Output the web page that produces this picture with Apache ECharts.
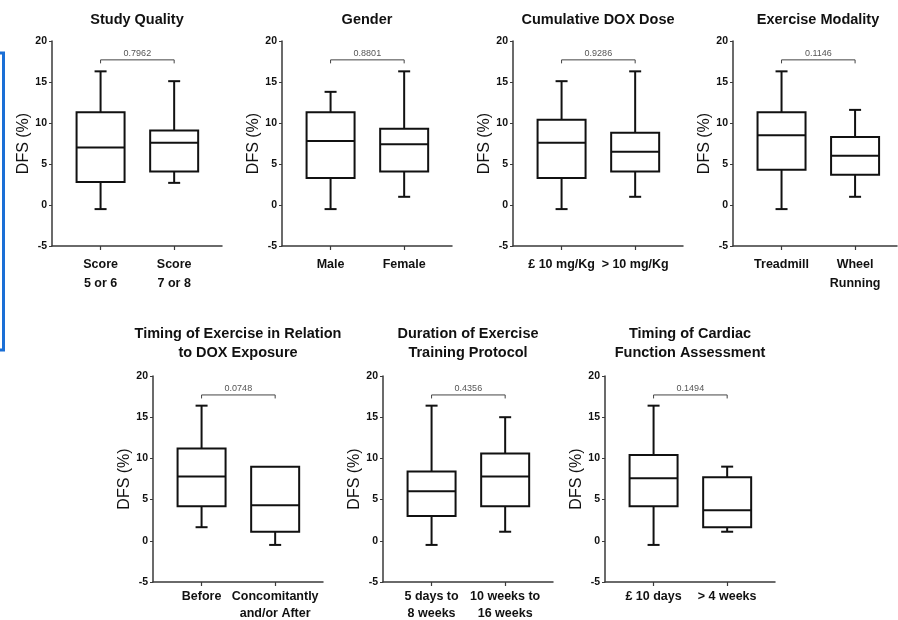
<!DOCTYPE html>
<html>
<head>
<meta charset="utf-8">
<script src="https://cdn.jsdelivr.net/npm/echarts@6/dist/echarts.min.js"></script>
<style>
  html, body { margin: 0; padding: 0; background: #ffffff; }
  #chart { width: 898px; height: 620px; }
</style>
</head>
<body>
<div id="chart"></div>
<script>
// Box statistics per group: [min, Q1, median, Q3, max] of DFS (%)
const studyQualityGroups = ['Score\n5 or 6', 'Score\n7 or 8'];
const studyQualityBoxes = [[-0.5, 2.8, 7.0, 11.3, 16.3], [2.7, 4.1, 7.6, 9.1, 15.1]];

const genderGroups = ['Male', 'Female'];
const genderBoxes = [[-0.5, 3.3, 7.8, 11.3, 13.8], [1.0, 4.1, 7.4, 9.3, 16.3]];

const doseGroups = ['£ 10 mg/Kg', '> 10 mg/Kg'];
const doseBoxes = [[-0.5, 3.3, 7.6, 10.4, 15.1], [1.0, 4.1, 6.5, 8.8, 16.3]];

const modalityGroups = ['Treadmill', 'Wheel\nRunning'];
const modalityBoxes = [[-0.5, 4.3, 8.5, 11.3, 16.3], [1.0, 3.7, 6.0, 8.3, 11.6]];

const timingGroups = ['Before', 'Concomitantly\nand/or After'];
const timingBoxes = [[1.65, 4.2, 7.8, 11.2, 16.4], [-0.5, 1.1, 4.3, 9.0, 9.0]];

const durationGroups = ['5 days to\n8 weeks', '10 weeks to\n16 weeks'];
const durationBoxes = [[-0.5, 3.0, 6.0, 8.4, 16.4], [1.1, 4.2, 7.8, 10.6, 15.0]];

const assessmentGroups = ['£ 10 days', '> 4 weeks'];
const assessmentBoxes = [[-0.5, 4.2, 7.6, 10.4, 16.4], [1.1, 1.65, 3.7, 7.7, 9.0]];

// Comparison p-values, one per panel
const pValues = [0.7962, 0.8801, 0.9286, 0.1146, 0.0748, 0.4356, 0.1494];

const panelTitles = [
  'Study Quality',
  'Gender',
  'Cumulative DOX Dose',
  'Exercise Modality',
  'Timing of Exercise in Relation\nto DOX Exposure',
  'Duration of Exercise\nTraining Protocol',
  'Timing of Cardiac\nFunction Assessment'
];

// y-axis scale
const yMin = -5, yMax = 20, yStep = 5;
const yAxisName = 'DFS (%)';

const panelGroups = [studyQualityGroups, genderGroups, doseGroups, modalityGroups,
  timingGroups, durationGroups, assessmentGroups];
const panelBoxes = [studyQualityBoxes, genderBoxes, doseBoxes, modalityBoxes,
  timingBoxes, durationBoxes, assessmentBoxes];

// Plot-area placement of each panel (pixels)
const layout = [
  { left: 52,  top: 41,  width: 170, height: 205, xMax: 1.65, labelGap: 9, labelLine: 19 },
  { left: 282, top: 41,  width: 170, height: 205, xMax: 1.65, labelGap: 9, labelLine: 19 },
  { left: 513, top: 41,  width: 170, height: 205, xMax: 1.65, labelGap: 9, labelLine: 19 },
  { left: 733, top: 41,  width: 164, height: 205, xMax: 1.57, labelGap: 9, labelLine: 19 },
  { left: 153, top: 376, width: 170, height: 206, xMax: 1.65, labelGap: 6, labelLine: 17 },
  { left: 383, top: 376, width: 170, height: 206, xMax: 1.65, labelGap: 6, labelLine: 17 },
  { left: 605, top: 376, width: 170, height: 206, xMax: 1.65, labelGap: 6, labelLine: 17 }
];
const titleTops = [10, 10, 10, 10, 324, 324, 324];

const SANS = "'Liberation Sans', Arial, sans-serif";
const INK = '#111111';
const AXIS = '#3a3a3a';
const BOX_HALF = 24;   // half box width, px
const CAP_HALF = 6;    // half whisker-cap width, px
const BRACKET_LEVEL = 17.7;

function renderBox(params, api) {
  const x = api.value(0);
  const lo = api.value(1), q1 = api.value(2), med = api.value(3), q3 = api.value(4), hi = api.value(5);
  const cx = api.coord([x, 0])[0];
  const py = v => api.coord([x, v])[1];
  const stroke = { stroke: INK, lineWidth: 2, fill: null };
  const line = (x1, y1, x2, y2) => ({ type: 'line', shape: { x1, y1, x2, y2 }, style: stroke });
  const yLo = py(lo), yQ1 = py(q1), yMed = py(med), yQ3 = py(q3), yHi = py(hi);
  const children = [];
  if (yHi < yQ3 - 0.5) {
    children.push(line(cx, yQ3, cx, yHi));
    children.push(line(cx - CAP_HALF, yHi, cx + CAP_HALF, yHi));
  }
  if (yLo > yQ1 + 0.5) {
    children.push(line(cx, yQ1, cx, yLo));
    children.push(line(cx - CAP_HALF, yLo, cx + CAP_HALF, yLo));
  }
  children.push({
    type: 'rect',
    shape: { x: cx - BOX_HALF, y: yQ3, width: BOX_HALF * 2, height: yQ1 - yQ3 },
    style: { stroke: INK, lineWidth: 2, fill: '#ffffff' }
  });
  children.push(line(cx - BOX_HALF, yMed, cx + BOX_HALF, yMed));
  return { type: 'group', children };
}

function renderBracket(params, api) {
  const a = api.coord([api.value(0), BRACKET_LEVEL]);
  const b = api.coord([api.value(1), BRACKET_LEVEL]);
  const y = a[1];
  return {
    type: 'group',
    children: [
      {
        type: 'polyline',
        shape: { points: [[a[0], y + 3.5], [a[0], y], [b[0], y], [b[0], y + 3.5]] },
        style: { stroke: '#444444', lineWidth: 1, fill: null }
      },
      {
        type: 'text',
        x: (a[0] + b[0]) / 2,
        y: y - 2,
        style: {
          text: api.value(2).toFixed(4),
          align: 'center',
          verticalAlign: 'bottom',
          font: "9px " + SANS,
          fill: '#555555'
        }
      }
    ]
  };
}

const grid = [], xAxis = [], yAxis = [], series = [], title = [];

layout.forEach((L, i) => {
  const groups = panelGroups[i];
  grid.push({
    left: L.left, top: L.top, width: L.width, height: L.height,
    containLabel: false, outerBoundsMode: 'none'
  });
  xAxis.push({
    gridIndex: i,
    type: 'value',
    min: -0.66,
    max: L.xMax,
    axisLine: { show: true, onZero: false, lineStyle: { color: AXIS, width: 1.5 } },
    axisTick: { show: true, customValues: [0, 1], length: 4, lineStyle: { color: AXIS, width: 1.2 } },
    axisLabel: {
      customValues: [0, 1],
      formatter: v => groups[Math.round(v)],
      hideOverlap: false,
      margin: L.labelGap,
      color: INK,
      fontFamily: SANS,
      fontWeight: 'bold',
      fontSize: 12.5,
      lineHeight: L.labelLine
    },
    splitLine: { show: false }
  });
  yAxis.push({
    gridIndex: i,
    type: 'value',
    min: yMin,
    max: yMax,
    interval: yStep,
    name: yAxisName,
    nameLocation: 'middle',
    nameRotate: 90,
    nameGap: 13,
    nameTextStyle: { fontFamily: SANS, fontSize: 16, color: INK },
    axisLine: { show: true, onZero: false, lineStyle: { color: AXIS, width: 1.5 } },
    axisTick: { show: true, length: 3, lineStyle: { color: AXIS, width: 1 } },
    axisLabel: { margin: 5, color: INK, fontFamily: SANS, fontWeight: 'bold', fontSize: 10.5 },
    splitLine: { show: false }
  });
  series.push({
    type: 'custom',
    xAxisIndex: i,
    yAxisIndex: i,
    renderItem: renderBox,
    encode: { x: 0, y: [1, 2, 3, 4, 5] },
    data: panelBoxes[i].map((s, k) => [k].concat(s)),
    silent: true
  });
  series.push({
    type: 'custom',
    xAxisIndex: i,
    yAxisIndex: i,
    renderItem: renderBracket,
    encode: { x: [0, 1] },
    data: [[0, 1, pValues[i]]],
    silent: true
  });
  title.push({
    text: panelTitles[i],
    left: L.left + L.width / 2 + (i === 3 ? 3 : 0),
    top: titleTops[i],
    textAlign: 'center',
    padding: 0,
    textStyle: { fontFamily: SANS, fontWeight: 'bold', fontSize: 14.5, color: INK, lineHeight: 19 }
  });
});

const chart = echarts.init(document.getElementById('chart'), null, { renderer: 'canvas' });
chart.setOption({
  backgroundColor: '#ffffff',
  animation: false,
  title,
  grid,
  xAxis,
  yAxis,
  series,
  graphic: [
    {
      type: 'rect',
      shape: { x: -20, y: 53, width: 23.5, height: 297 },
      style: { stroke: '#1a6fd6', lineWidth: 3, fill: null },
      silent: true
    }
  ]
});
</script>
</body>
</html>
